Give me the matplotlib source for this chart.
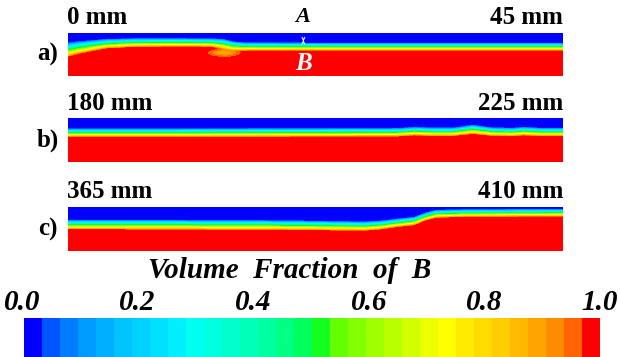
import numpy as np
import matplotlib
matplotlib.use("Agg")
import matplotlib.pyplot as plt
from matplotlib.colors import ListedColormap, BoundaryNorm

# ---- data -------------------------------------------------------------
# interface position (fraction of channel height) along each 45 mm window
# and the thickness of the mixing layer around it
xa = [0, 1, 3.5, 6, 10, 13, 14, 15, 16, 25, 35, 45]
ha = [0.60, 0.65, 0.74, 0.765, 0.77, 0.765, 0.74, 0.69, 0.675, 0.67, 0.67, 0.67]
wa = [0.36, 0.32, 0.24, 0.22, 0.21, 0.21, 0.25, 0.23, 0.21, 0.20, 0.20, 0.20]

xb = [0, 10, 20, 30, 31.5, 33, 35, 36.8, 38.5, 40.5, 41.4, 43, 45]
hb = [0.655, 0.655, 0.66, 0.665, 0.69, 0.675, 0.675, 0.73, 0.68, 0.67, 0.69, 0.67, 0.67]
wb = [0.21, 0.21, 0.21, 0.21, 0.21, 0.21, 0.21, 0.23, 0.21, 0.21, 0.21, 0.21, 0.21]

xc = [0, 5, 10, 15, 20, 25, 27, 28.5, 30, 31.5, 32.5, 33.5, 36, 40, 45]
hc = [0.59, 0.59, 0.585, 0.58, 0.575, 0.56, 0.555, 0.58, 0.63, 0.67, 0.77, 0.835, 0.85, 0.855, 0.86]
wc = [0.24, 0.24, 0.24, 0.24, 0.24, 0.23, 0.23, 0.22, 0.21, 0.21, 0.20, 0.20, 0.19, 0.19, 0.19]

# trapped pocket of lighter fluid near the step in window a)
pocket_x, pocket_y, pocket_depth = 14.2, 0.54, 0.13

windows = [("a)", "0 mm", "45 mm", xa, ha, wa),
           ("b)", "180 mm", "225 mm", xb, hb, wb),
           ("c)", "365 mm", "410 mm", xc, hc, wc)]

cbar_ticks = [0.0, 0.2, 0.4, 0.6, 0.8, 1.0]
cbar_labels = ["0.0", "0.2", "0.4", "0.6", "0.8", "1.0"]

# 32-band flood palette
band_rgb = [(0, 0, 255), (0, 85, 255), (0, 125, 255), (0, 155, 255),
            (0, 175, 255), (0, 195, 255), (0, 210, 255), (0, 225, 255),
            (0, 240, 255), (0, 255, 240), (0, 255, 225), (0, 255, 205),
            (0, 255, 185), (0, 255, 160), (0, 255, 130), (0, 255, 90),
            (20, 255, 30), (100, 255, 0), (130, 255, 0), (160, 255, 0),
            (185, 255, 0), (210, 255, 0), (235, 255, 0), (255, 255, 0),
            (255, 235, 0), (255, 220, 0), (255, 205, 0), (255, 185, 0),
            (255, 165, 0), (255, 140, 0), (255, 100, 0), (255, 0, 0)]

# ---- drawing ----------------------------------------------------------
cmap = ListedColormap(np.array(band_rgb) / 255.0)
levels = np.linspace(0, 1, len(band_rgb) + 1)
norm = BoundaryNorm(levels, cmap.N)

W, H = 620, 357
fig = plt.figure(figsize=(W / 100, H / 100), dpi=100)
SERIF = ["Liberation Serif", "DejaVu Serif"]


def box(x0, y0, x1, y1):
    return [x0 / W, 1 - y1 / H, (x1 - x0) / W, (y1 - y0) / H]


def ftext(x, y, s, **kw):
    fig.text(x / W, 1 - y / H, s, family=SERIF, fontweight="bold", **kw)


panel_px = [(33, 76), (118, 162), (207, 251)]
X0, X1 = 68, 563

gx = np.linspace(0, 45, 600)
gy = np.linspace(0, 1, 200)
GX, GY = np.meshgrid(gx, gy)

for (lab, left, right, xs, hs, ws), (y0, y1) in zip(windows, panel_px):
    ax = fig.add_axes(box(X0, y0, X1, y1))
    h = np.interp(gx, xs, hs)[None, :]
    w = np.interp(gx, xs, ws)[None, :]
    # volume fraction ramps across the mixing layer
    field = np.clip((h - GY) / w + 0.5, 0, 1)
    if lab == "a)":
        field -= pocket_depth * np.exp(-(((GX - pocket_x) / 1.3) ** 2
                                         + ((GY - pocket_y) / 0.09) ** 2))
    field = np.clip(field, 0, 1)
    ax.contourf(GX, GY, field, levels=levels, cmap=cmap, norm=norm)
    ax.set_xlim(0, 45)
    ax.set_ylim(0, 1)
    ax.axis("off")

    ftext(X0 - 20, (y0 + y1) / 2, lab, fontsize=18, ha="center", va="center")
    ftext(X0 - 1, y0 - 15, left, fontsize=18, ha="left", va="center")
    ftext(X1, y0 - 15, right, fontsize=18, ha="right", va="center")

    if lab == "a)":
        xm = 21.4
        ax.annotate("", xy=(xm, 0.74), xytext=(xm, 0.90),
                    arrowprops=dict(arrowstyle="<->", color="white", lw=0.8,
                                    mutation_scale=5))
        ax.text(xm, 0.30, "B", color="white", family=SERIF, fontweight="bold",
                fontstyle="italic", fontsize=18, ha="center", va="center")
        ftext(303, 17, "A", fontsize=16, fontstyle="italic", ha="center",
              va="center")

# colour bar
cax = fig.add_axes(box(24, 318, 600, 357))
cax.imshow(np.linspace(0, 1, 640)[None, :], aspect="auto", cmap=cmap,
           norm=norm, extent=(0, 1, 0, 1))
cax.set_xlim(0, 1)
cax.axis("off")
for t, s in zip(cbar_ticks, cbar_labels):
    ftext(22 + t * 578, 302, s, fontsize=21, fontstyle="italic",
          ha="center", va="center")
ftext(290, 271, "Volume  Fraction  of  B", fontsize=21, fontstyle="italic",
      ha="center", va="center")

fig.savefig("out.png", dpi=100)
